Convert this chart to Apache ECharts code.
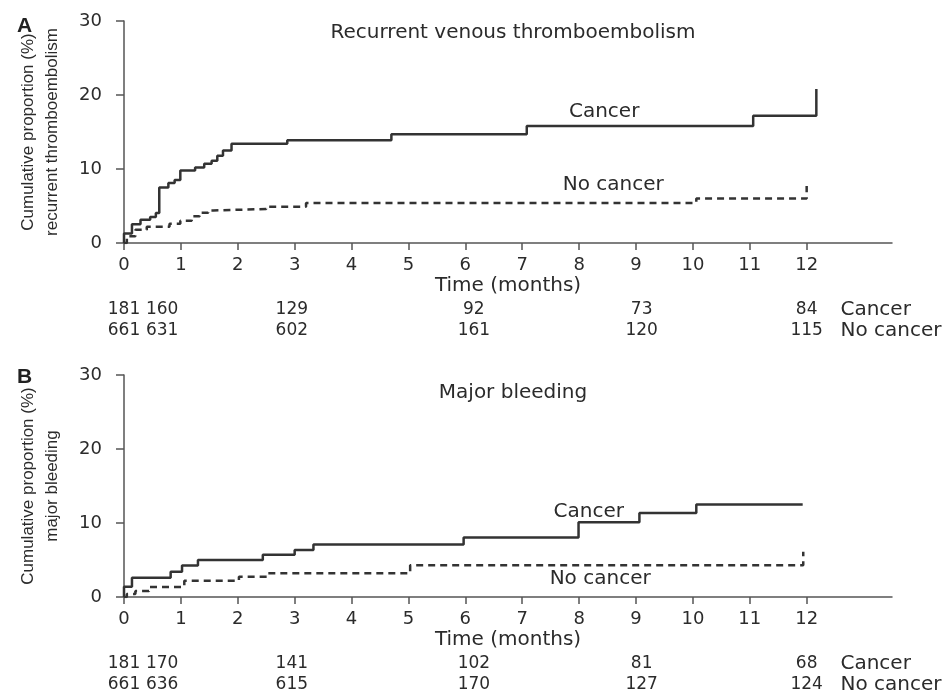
<!DOCTYPE html>
<html>
<head>
<meta charset="utf-8">
<script src="https://cdn.jsdelivr.net/npm/echarts@6/dist/echarts.min.js"></script>
<style>
html, body { margin: 0; padding: 0; background: #fff; }
#chart { width: 948px; height: 691px; }
</style>
</head>
<body>
<div id="chart"></div>
<script>
var myChart = echarts.init(document.getElementById('chart'));

// A - recurrent venous thromboembolism (months, cumulative %)
var vteCancerT = [0, 0, 0.14, 0.29, 0.46, 0.56, 0.62, 0.78, 0.89, 0.99, 1.25, 1.41, 1.54, 1.64, 1.74, 1.89, 2.87, 4.7, 7.08, 11.06, 12.17];
var vteCancerY = [0, 1.3, 2.55, 3.15, 3.5, 4.05, 7.5, 8.1, 8.5, 9.8, 10.2, 10.7, 11.1, 11.8, 12.5, 13.4, 13.9, 14.7, 15.8, 17.2, 20.8];
var vteNoCancerT = [0, 0.05, 0.2, 0.4, 0.8, 0.99, 1.19, 1.33, 1.48, 1.57, 2.5, 3.2, 10.06, 12.0, 12.0];
var vteNoCancerY = [0, 0.9, 1.8, 2.2, 2.6, 3.0, 3.6, 4.1, 4.4, 4.6, 4.9, 5.4, 6.0, 6.8, 7.7];

// B - major bleeding
var bleedCancerT = [0, 0, 0.14, 0.82, 1.02, 1.3, 2.44, 3.0, 3.33, 5.97, 7.99, 9.06, 10.06, 11.93];
var bleedCancerY = [0, 1.4, 2.6, 3.4, 4.25, 5.0, 5.7, 6.35, 7.1, 8.05, 10.1, 11.35, 12.5, 12.5];
var bleedNoCancerT = [0, 0.05, 0.2, 0.44, 1.06, 2.02, 2.52, 5.03, 11.94, 11.94];
var bleedNoCancerY = [0, 0.4, 0.8, 1.35, 2.2, 2.75, 3.2, 4.3, 5.0, 6.1];

// number at risk
var riskT = [0, 0.67, 2.95, 6.15, 9.1, 12];
var vteRiskCancer = [181, 160, 129, 92, 73, 84];
var vteRiskNoCancer = [661, 631, 602, 161, 120, 115];
var bleedRiskCancer = [181, 170, 141, 102, 81, 68];
var bleedRiskNoCancer = [661, 636, 615, 170, 127, 124];
var rowNames = ['Cancer', 'No cancer'];

var monthTicks = [0, 1, 2, 3, 4, 5, 6, 7, 8, 9, 10, 11, 12];

var ink = '#2b2b2b';
var axisCol = '#555';
var sans = 'DejaVu Sans';

function zip(t, y) {
    return t.map(function (v, i) { return [v, y[i]]; });
}
function riskRow(vals, row) {
    return vals.map(function (v, i) { return [riskT[i], row, v]; });
}

function plotX(idx) {
    return {
        type: 'value', gridIndex: idx, min: 0, max: 13.5, interval: 1,
        axisLine: { lineStyle: { color: axisCol, width: 1.5 } },
        axisTick: { customValues: monthTicks, length: 7, lineStyle: { color: axisCol, width: 1.5 } },
        axisLabel: { customValues: monthTicks, margin: 13, fontSize: 18, color: ink, fontFamily: sans },
        splitLine: { show: false },
        name: 'Time (months)', nameLocation: 'middle', nameGap: 33,
        nameTextStyle: { fontSize: 20, color: ink, fontFamily: sans }
    };
}
function plotY(idx, name) {
    return {
        type: 'value', gridIndex: idx, min: 0, max: 30, interval: 10,
        axisLine: { show: true, lineStyle: { color: axisCol, width: 1.5 } },
        axisTick: { show: true, length: 8, lineStyle: { color: axisCol, width: 1.5 } },
        axisLabel: { margin: 22, fontSize: 18, color: ink, fontFamily: sans },
        splitLine: { show: false },
        name: name, nameLocation: 'middle', nameGap: 60,
        nameTextStyle: { fontSize: 17, lineHeight: 24, color: ink, fontFamily: 'Liberation Sans' }
    };
}
function tableX(idx) {
    return { type: 'value', gridIndex: idx, min: 0, max: 13.5, show: false };
}
function tableY(idx) {
    return { type: 'category', gridIndex: idx, data: rowNames, inverse: true, boundaryGap: false, show: false };
}
function curve(xi, data, dashed) {
    return {
        type: 'line', xAxisIndex: xi, yAxisIndex: xi, step: 'end', symbol: 'none',
        data: data, silent: true,
        lineStyle: { color: '#333', width: 2.5, type: dashed ? [7, 5] : 'solid' }
    };
}
function textMarks(xi, data, size, pos) {
    return {
        type: 'scatter', xAxisIndex: xi, yAxisIndex: xi, symbolSize: 1, silent: true,
        itemStyle: { color: 'rgba(0,0,0,0)', opacity: 1 }, data: data, clip: false,
        label: {
            show: true, position: pos || 'inside', distance: 2,
            fontSize: size, color: ink, fontFamily: sans,
            formatter: function (p) { return p.value[2]; }
        }
    };
}

option = {
    backgroundColor: '#fff',
    animation: false,
    title: [
        { text: 'A', left: 12, top: 11, textStyle: { fontSize: 21, fontWeight: 'bold', color: '#222', fontFamily: 'Liberation Sans' } },
        { text: 'Recurrent venous thromboembolism', left: 508, top: 18, textAlign: 'center', textStyle: { fontSize: 20, fontWeight: 'normal', color: ink, fontFamily: sans } },
        { text: 'B', left: 12, top: 362, textStyle: { fontSize: 21, fontWeight: 'bold', color: '#222', fontFamily: 'Liberation Sans' } },
        { text: 'Major bleeding', left: 508, top: 378, textAlign: 'center', textStyle: { fontSize: 20, fontWeight: 'normal', color: ink, fontFamily: sans } }
    ],
    grid: [
        { left: 124, top: 21, width: 768, height: 222 },
        { left: 124, top: 375, width: 768, height: 222 },
        { left: 124, top: 310, width: 768, height: 21 },
        { left: 124, top: 664, width: 768, height: 21 }
    ],
    xAxis: [plotX(0), plotX(1), tableX(2), tableX(3)],
    yAxis: [
        plotY(0, 'Cumulative proportion (%)\nrecurrent thromboembolism'),
        plotY(1, 'Cumulative proportion (%)\nmajor bleeding'),
        tableY(2), tableY(3)
    ],
    series: [
        curve(0, zip(vteCancerT, vteCancerY), false),
        curve(0, zip(vteNoCancerT, vteNoCancerY), true),
        curve(1, zip(bleedCancerT, bleedCancerY), false),
        curve(1, zip(bleedNoCancerT, bleedNoCancerY), true),
        textMarks(0, [[8.44, 17.7, 'Cancer'], [8.6, 7.9, 'No cancer']], 20),
        textMarks(1, [[8.17, 11.5, 'Cancer'], [8.37, 2.45, 'No cancer']], 20),
        textMarks(2, riskRow(vteRiskCancer, 'Cancer').concat(riskRow(vteRiskNoCancer, 'No cancer')), 17),
        textMarks(3, riskRow(bleedRiskCancer, 'Cancer').concat(riskRow(bleedRiskNoCancer, 'No cancer')), 17),
        textMarks(2, [[12.55, 'Cancer', 'Cancer'], [12.55, 'No cancer', 'No cancer']], 20, 'right'),
        textMarks(3, [[12.55, 'Cancer', 'Cancer'], [12.55, 'No cancer', 'No cancer']], 20, 'right')
    ]
};

myChart.setOption(option);
</script>
</body>
</html>
